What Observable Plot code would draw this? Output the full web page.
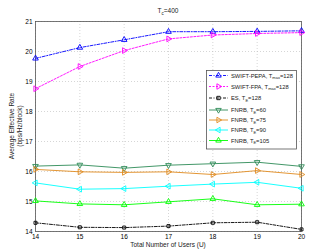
<!DOCTYPE html>
<html><head><meta charset="utf-8">
<script src="https://cdn.jsdelivr.net/npm/d3@7"></script>
<script src="https://cdn.jsdelivr.net/npm/@observablehq/plot@0.6"></script>
<style>body{margin:0;background:#fff}svg{font-family:"Liberation Sans",Arial,sans-serif}</style>
</head><body><div id="chart"></div>
<script>
const users = [14, 15, 16, 17, 18, 19, 20];
const pepa = [19.77, 20.13, 20.39, 20.66, 20.66, 20.67, 20.69];
const fpa = [18.76, 19.50, 20.03, 20.42, 20.55, 20.60, 20.63];
const es = [14.29, 14.14, 14.13, 14.18, 14.29, 14.31, 14.07];
const f60 = [16.18, 16.22, 16.11, 16.21, 16.26, 16.31, 16.17];
const f75 = [16.07, 15.99, 15.97, 15.99, 15.90, 16.03, 15.90];
const f90 = [15.62, 15.41, 15.43, 15.51, 15.58, 15.64, 15.44];
const f105 = [15.02, 14.92, 14.89, 14.99, 15.09, 14.89, 14.91];
const xTicks = [14, 15, 16, 17, 18, 19, 20];
const yTicks = [14, 15, 16, 17, 18, 19, 20, 21];

const series = [
  {key: "pepa", vals: pepa, label: ["SWIFT-PEPA, T", "max", "=128"], color: "#0000ff", dash: "3,1.5,1,1.5", symbol: "triangle", rot: 0},
  {key: "fpa", vals: fpa, label: ["SWIFT-FPA, T", "max", "=128"], color: "#ff00ff", dash: "2,1.5", symbol: "triangle", rot: 90},
  {key: "es", vals: es, label: ["ES, T", "E", "=128"], color: "#000000", dash: "3,1.5,1,1.5", symbol: "square", rot: 0},
  {key: "f60", vals: f60, label: ["FNRB, T", "E", "=60"], color: "#2e8b57", dash: null, symbol: "triangle", rot: 180},
  {key: "f75", vals: f75, label: ["FNRB, T", "E", "=75"], color: "#e08a1e", dash: null, symbol: "triangle", rot: 90},
  {key: "f90", vals: f90, label: ["FNRB, T", "E", "=90"], color: "#00ffff", dash: null, symbol: "triangle", rot: -90},
  {key: "f105", vals: f105, label: ["FNRB, T", "E", "=105"], color: "#00ff00", dash: null, symbol: "triangle", rot: 0}
];

const marks = [
  Plot.gridX(xTicks, {stroke: "#bbb", strokeOpacity: 1, strokeDasharray: "1,2", strokeWidth: 0.6}),
  Plot.gridY(yTicks, {stroke: "#bbb", strokeOpacity: 1, strokeDasharray: "1,2", strokeWidth: 0.6}),
  Plot.axisX(xTicks, {tickSize: 0, tickPadding: 3, fontSize: 6.5, label: null, tickFormat: d => d}),
  Plot.axisY(yTicks, {tickSize: 0, tickPadding: 3, fontSize: 6.5, label: null, tickFormat: d => d}),
  Plot.frame({stroke: "#555", strokeWidth: 0.8})
];
for (const s of series) {
  const data = users.map((u, i) => ({u, v: s.vals[i]}));
  marks.push(Plot.line(data, {x: "u", y: "v", stroke: s.color, strokeWidth: 0.9, strokeDasharray: s.dash}));
  marks.push(Plot.dot(data, {x: "u", y: "v", stroke: s.color, fill: "none", strokeWidth: 0.9, symbol: s.symbol, r: s.symbol === "square" ? 1.7 : 2.1, rotate: s.rot}));
}

const chart = Plot.plot({
  width: 309, height: 251,
  marginLeft: 35, marginRight: 8, marginTop: 21, marginBottom: 20,
  x: {domain: [14, 20]},
  y: {domain: [14, 21]},
  marks
});
document.getElementById("chart").appendChild(chart);

const svg = d3.select(chart);
const fs = 5.8;
// title
const t = svg.append("text").attr("x", 168).attr("y", 13).attr("text-anchor", "middle").attr("font-size", 6.5).attr("fill", "#222");
t.append("tspan").text("T");
t.append("tspan").attr("font-size", 4.5).attr("dy", 2).text("c");
t.append("tspan").attr("dy", -2).text("=400");
// x label
svg.append("text").attr("x", 168).attr("y", 247).attr("text-anchor", "middle").attr("font-size", 6.5).attr("fill", "#222").text("Total Number of Users (U)");
// y label
const yl = svg.append("text").attr("transform", "translate(14,126) rotate(-90)").attr("text-anchor", "middle").attr("font-size", 6.5).attr("fill", "#222");
yl.append("tspan").attr("x", 0).attr("dy", 0).text("Average Effective Rate");
yl.append("tspan").attr("x", 0).attr("dy", 7.5).text("(bps/Hz/block)");

// legend
const lg = svg.append("g");
lg.append("rect").attr("x", 206.5).attr("y", 70.5).attr("width", 90).attr("height", 78.5).attr("fill", "#fff").attr("stroke", "#555").attr("stroke-width", 0.8);
const ys = [75.5, 86.5, 98, 110, 120, 130, 140.5];
series.forEach((s, i) => {
  const y = ys[i];
  lg.append("line").attr("x1", 209).attr("x2", 228).attr("y1", y).attr("y2", y).attr("stroke", s.color).attr("stroke-width", 0.9).attr("stroke-dasharray", s.dash);
  const sym = s.symbol === "square" ? d3.symbolSquare : d3.symbolTriangle;
  const size = s.symbol === "square" ? 11 : 13;
  lg.append("path").attr("d", d3.symbol(sym, size)()).attr("transform", `translate(218.5,${y}) rotate(${s.rot})`).attr("fill", "none").attr("stroke", s.color).attr("stroke-width", 0.9);
  const tx = lg.append("text").attr("x", 231).attr("y", y + 2).attr("text-anchor", "start").attr("font-size", fs).attr("fill", "#222");
  tx.append("tspan").text(s.label[0]);
  tx.append("tspan").attr("font-size", 4).attr("dy", 1.6).text(s.label[1]);
  tx.append("tspan").attr("dy", -1.6).text(s.label[2]);
});
</script></body></html>
